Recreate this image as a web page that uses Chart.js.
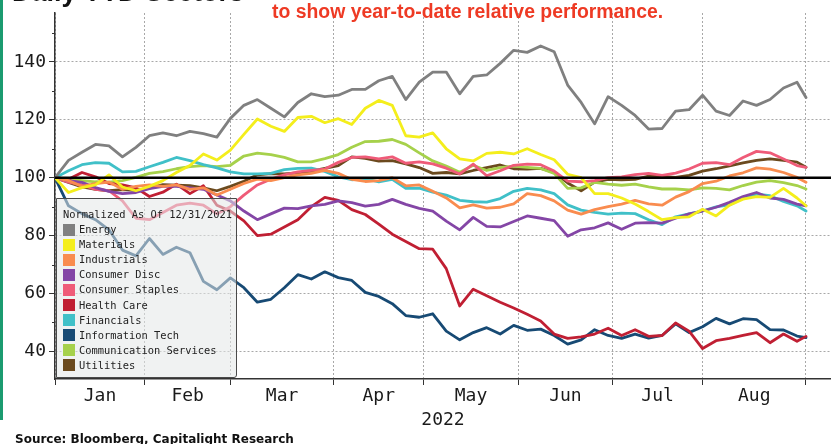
<!DOCTYPE html>
<html>
<head>
<meta charset="utf-8">
<script src="https://cdn.jsdelivr.net/npm/chart.js@4"></script>
<style>
    body { margin: 0; background: #fff; }
    #wrap { position: relative; width: 831px; height: 444px; overflow: hidden; }
    #wrap canvas { position: absolute; left: 0; top: 0; }
    .txt { position: absolute; white-space: nowrap; }
    #bar { position: absolute; left: 0; top: 0; width: 3px; height: 420px; background: #1b9b70; }
    #title { left: 12px; top: -21px; font: bold 27px "Liberation Sans", Arial, sans-serif; line-height: 27px; color: #111; }
    #subtitle { left: 272px; top: 2px; font: bold 19.4px "Liberation Sans", Arial, sans-serif; line-height: 19px; color: #ee3a24; }
    #source { left: 15px; top: 433px; font: bold 12px "DejaVu Sans", sans-serif; line-height: 12px; color: #111; }
    #legend {
        position: absolute; left: 56px; top: 198px; width: 181px; height: 180px;
        box-sizing: border-box; padding: 8px 0 0 6px;
        background: rgba(228, 232, 232, 0.55); border: 1.5px solid #4a4a4a; border-radius: 0 0 3px 0;
        font: 10.4px "DejaVu Sans Mono", monospace; line-height: 15.1px; color: #222;
    }
    #legend .row { display: flex; align-items: center; height: 15.1px; }
    #legend .sw { width: 12px; height: 12px; margin-right: 4px; }
</style>
</head>
<body>
<div id="wrap">
    <canvas id="sectorChart" width="831" height="444"></canvas>
    <div id="bar"></div>
    <div class="txt" id="title">Daily YTD Sectors</div>
    <div class="txt" id="subtitle">to show year-to-date relative performance.</div>
    <div id="legend"></div>
    <div class="txt" id="source">Source: Bloomberg, Capitalight Research</div>
</div>
<script>
// trading-day index since 12/31/2021 (sampled every 3 sessions)
const tradingDay = [0, 3, 6, 9, 12, 15, 18, 21, 24, 27, 30, 33, 36, 39, 42, 45, 48, 51, 54, 57,
    60, 63, 66, 69, 72, 75, 78, 81, 84, 87, 90, 93, 96, 99, 102, 105, 108, 111, 114, 117,
    120, 123, 126, 129, 132, 135, 138, 141, 144, 147, 150, 153, 156, 159, 162, 165, 167];

const energy = [100, 106, 108.8, 111.5, 111, 107.2, 110.5, 114.5, 115.5, 114.5,
    116, 115.2, 114, 120.5, 125, 127, 124, 121, 126, 129,
    128, 128.5, 130.5, 130.5, 133.5, 135, 127, 133, 136.5, 136.5,
    129, 135, 135.5, 139.5, 144, 143.3, 145.5, 143.5, 132, 126,
    118.6, 128, 125, 121.5, 116.8, 117, 123, 123.5, 128.5, 123,
    121.5, 126.5, 125, 127, 131, 133, 127.7];
const materials = [100, 94.9, 96.6, 97.5, 101, 96.8, 95.5, 97, 99, 101.8,
    104.2, 108.2, 106.1, 109.5, 115, 120.3, 117.8, 116, 120.8, 121.2,
    119, 120.4, 118.4, 124, 126.7, 125, 114.5, 114, 115.5, 110,
    106.5, 105.8, 108.4, 108.8, 108.2, 110, 108, 106.2, 101.2, 100,
    94.5, 94.5, 93, 90.9, 88.3, 85.5, 86.2, 86.5, 89.1, 86.8,
    90.5, 92.6, 93.5, 93.2, 96.3, 93, 90.3];
const industrials = [100, 99, 97, 98, 98.5, 96, 97, 97.5, 97, 97.5,
    96, 96.5, 94, 96, 98, 99.5, 99, 100, 101, 101.5,
    102.5, 101.5, 99.4, 98.7, 99, 100, 97.2, 97.5, 95.3, 93,
    89.6, 90.6, 89.5, 89.8, 91, 94.5, 93.8, 92, 88.8, 87.4,
    89, 90, 90.9, 92.2, 91, 90.5, 93.3, 95.2, 98, 98.8,
    100.6, 101.7, 103.4, 103, 101.8, 100.1, 98.4];
const consumerDisc = [100, 99, 98.4, 96.6, 95.3, 94.5, 94.9, 96.2, 97, 97,
    96.5, 96, 94, 92, 88.5, 85.5, 87.5, 89.5, 89.3, 90.3,
    90.8, 92, 91.4, 90.2, 90.8, 92.5, 90.8, 89.4, 88.5, 85,
    82, 86.3, 83.2, 83, 84.9, 86.8, 86, 85.2, 79.8, 82,
    82.7, 84.4, 82.2, 84.3, 84.5, 84.3, 86, 87.5, 88.5, 89.8,
    91.5, 93.5, 94.9, 93, 92.5, 90.9, 90.3];
const consumerStaples = [100, 98.5, 97.5, 96, 95.5, 92, 86, 85.5, 88, 90.5,
    91.2, 90.5, 87.5, 90, 94, 97.5, 99.5, 101, 102, 102.5,
    103, 105.3, 107, 107.2, 106.5, 107.2, 105, 105.5, 104.8, 103.3,
    101.3, 104.7, 100.7, 102.4, 104.3, 104.7, 104.5, 102.3, 98.8, 98.6,
    99, 100, 100.3, 101.1, 101.5, 100.8, 101.6, 103, 105, 105.2,
    104.5, 107, 109.1, 108.6, 106.5, 104.2, 103.6];
const healthCare = [100, 99.5, 101.8, 100.3, 98, 97.5, 96.5, 93.5, 95, 97.8,
    94.5, 97.2, 90.5, 88.5, 85.1, 80, 80.5, 83, 85.5, 90,
    93.2, 92.2, 89, 87.3, 84, 80.5, 78, 75.5, 75.3, 68.6,
    55.7, 61.5, 59.2, 57, 55, 52.8, 50.5, 46, 44.5, 45,
    46, 48, 45.5, 47.5, 45.2, 45.5, 49.8, 47, 41, 43.7,
    44.5, 45.5, 46.5, 43, 46, 43.5, 45.2];
const financials = [100, 102.4, 104.5, 105.2, 105, 102, 102.2, 103.8, 105.3, 107,
    105.9, 104.5, 103.4, 102, 101.3, 101.3, 101.5, 102.8, 103.2, 103.3,
    102.2, 100.3, 99.3, 99.7, 98.6, 99.4, 96.3, 96.4, 95, 94,
    92.2, 91.7, 91.6, 92.8, 95.3, 96.3, 95.8, 94.5, 90.6, 88.8,
    88, 87.4, 87.8, 87.6, 85.5, 83.8, 86.5, 87.5, 88.5, 89.9,
    90.6, 93, 94.3, 93.8, 91.8, 90.3, 88.5];
const infoTech = [100, 90.3, 87.6, 85.5, 82, 75, 73, 79, 73.5, 76,
    74.1, 64.2, 61.3, 65.4, 62, 57, 58, 62, 66.5, 65,
    67.5, 65.5, 64.5, 60.4, 59, 56.5, 52.4, 51.8, 53, 47,
    44, 46.5, 48.2, 46, 49, 47.3, 47.7, 45.5, 42.5, 44,
    47.5, 45.5, 44.5, 46, 44.6, 45.5, 49.5, 46.5, 48.5, 51.4,
    49.5, 51.3, 51, 47.5, 47.4, 45.3, 44.8];
const commServices = [100, 99.5, 99, 98.6, 98.5, 99, 100.1, 101.5, 102.1, 103.1,
    103.8, 104.2, 103.8, 104.3, 107.5, 108.5, 108, 107, 105.5, 105.5,
    106.6, 108, 110.5, 112.5, 112.6, 113.2, 111.5, 108.6, 105.8, 104,
    101.9, 104.3, 102.5, 103.5, 104, 103.6, 103.2, 101.5, 96.3, 96.5,
    98.4, 97.8, 97.4, 97.8, 96.8, 96.1, 96.1, 95.8, 96.5, 96.3,
    95.8, 97.3, 98.5, 99, 98.3, 97.3, 96.1];
const utilities = [100, 98.4, 96.8, 96, 95.5, 95.9, 95.6, 96.4, 97.6, 97.4,
    97.3, 96.5, 95.5, 97, 98.8, 101, 101.4, 101.3, 101.7, 102.3,
    103.2, 104.2, 107.2, 106.7, 105.7, 105.9, 104.8, 103.5, 101.5, 101.8,
    101.3, 102.5, 103.5, 104.4, 103.1, 103, 103.2, 101.8, 98.2, 95.5,
    98.5, 99.4, 99.3, 99.4, 100.6, 100.5, 100.1, 100.8, 102.3, 103.1,
    104.1, 105.1, 106, 106.5, 106, 105.4, 103.6];

const sectorNames = ['Energy', 'Materials', 'Industrials', 'Consumer Disc', 'Consumer Staples',
    'Health Care', 'Financials', 'Information Tech', 'Communication Services', 'Utilities'];
const sectorValues = [energy, materials, industrials, consumerDisc, consumerStaples,
    healthCare, financials, infoTech, commServices, utilities];
const sectorColors = ['#808080', '#f4ee1c', '#f98c4f', '#8446a6', '#ef5b78',
    '#c01f33', '#40c0c8', '#174a74', '#a6d14b', '#6b4a1e'];

// month boundaries (trading-day index) and label positions
const monthEdges = [0, 20, 39, 62, 82, 103, 124, 144, 167];
const monthMids = [10, 29.5, 50.5, 72, 92.5, 113.5, 134, 155.5];
const monthLabels = ['Jan', 'Feb', 'Mar', 'Apr', 'May', 'Jun', 'Jul', 'Aug'];

const yMajor = [40, 60, 80, 100, 120, 140];
const yMinor = [50, 70, 90, 110, 130, 150];
const baseline = 100;

const xMax = 172.56;
const axisFont = { family: "'DejaVu Sans Mono', monospace", size: 18, lineHeight: 1 };

const minorTicks = {
    id: 'minorTicks',
    afterDraw(chart) {
        const y = chart.scales.y;
        const c = chart.ctx;
        c.save();
        c.strokeStyle = '#333';
        c.lineWidth = 1;
        yMinor.forEach(v => {
            const p = Math.round(y.getPixelForValue(v)) + 0.5;
            c.beginPath();
            c.moveTo(y.right - 3, p);
            c.lineTo(y.right, p);
            c.stroke();
        });
        c.restore();
    }
};

const datasets = sectorNames.map((name, i) => ({
    label: name,
    data: tradingDay.map((d, k) => ({ x: d, y: sectorValues[i][k] })),
    borderColor: sectorColors[i],
    backgroundColor: sectorColors[i],
    borderWidth: 2.8
}));
datasets.push({
    label: 'base',
    data: [{ x: 0, y: baseline }, { x: xMax, y: baseline }],
    borderColor: '#000',
    borderWidth: 2.6,
    order: -1
});

new Chart(document.getElementById('sectorChart').getContext('2d'), {
    type: 'line',
    data: { datasets: datasets },
    options: {
        responsive: false,
        animation: false,
        layout: { padding: { top: 13, left: 0, right: 0, bottom: 0 } },
        elements: {
            point: { radius: 0 },
            line: { tension: 0, borderJoinStyle: 'round', borderCapStyle: 'round' }
        },
        plugins: {
            legend: { display: false },
            tooltip: { enabled: false }
        },
        scales: {
            x: {
                type: 'linear',
                min: 0,
                max: xMax,
                afterFit: s => { s.height = 65; },
                afterBuildTicks: s => {
                    s.ticks = monthEdges.concat(monthMids).sort((a, b) => a - b).map(v => ({ value: v }));
                },
                ticks: {
                    autoSkip: false,
                    maxRotation: 0,
                    padding: 2,
                    color: '#1a1a1a',
                    font: axisFont,
                    callback: v => {
                        const k = monthMids.indexOf(v);
                        return k >= 0 ? monthLabels[k] : '';
                    }
                },
                grid: {
                    color: ctx => monthEdges.includes(ctx.tick.value) ? '#a8a8a8' : 'rgba(0,0,0,0)',
                    tickColor: ctx => monthEdges.includes(ctx.tick.value) ? '#333' : 'rgba(0,0,0,0)',
                    tickLength: 6,
                    lineWidth: 1
                },
                border: { color: '#333', width: 1.5, dash: [2, 2] },
                title: {
                    display: true,
                    text: '2022',
                    color: '#1a1a1a',
                    font: axisFont,
                    padding: { top: 0, bottom: 15 }
                }
            },
            y: {
                min: 30.47,
                max: 156.9,
                afterFit: s => { s.width = 55; },
                afterBuildTicks: s => {
                    s.ticks = yMajor.concat(yMinor).sort((a, b) => a - b).map(v => ({ value: v }));
                },
                ticks: {
                    padding: 3,
                    color: '#1a1a1a',
                    font: axisFont,
                    callback: v => yMajor.includes(v) ? String(v) : ''
                },
                grid: {
                    color: ctx => (yMajor.includes(ctx.tick.value) && ctx.tick.value !== baseline) ? '#a8a8a8' : 'rgba(0,0,0,0)',
                    tickColor: ctx => yMajor.includes(ctx.tick.value) ? '#333' : 'rgba(0,0,0,0)',
                    tickLength: 6,
                    lineWidth: 1
                },
                border: { color: '#333', width: 1.5, dash: [2, 2] }
            }
        }
    },
    plugins: [minorTicks]
});

// legend box over the plot
const legend = document.getElementById('legend');
legend.innerHTML = '<div class="row">Normalized As Of 12/31/2021</div>' +
    sectorNames.map((n, i) =>
        '<div class="row"><span class="sw" style="background:' + sectorColors[i] + '"></span>' + n + '</div>'
    ).join('');
</script>
</body>
</html>
